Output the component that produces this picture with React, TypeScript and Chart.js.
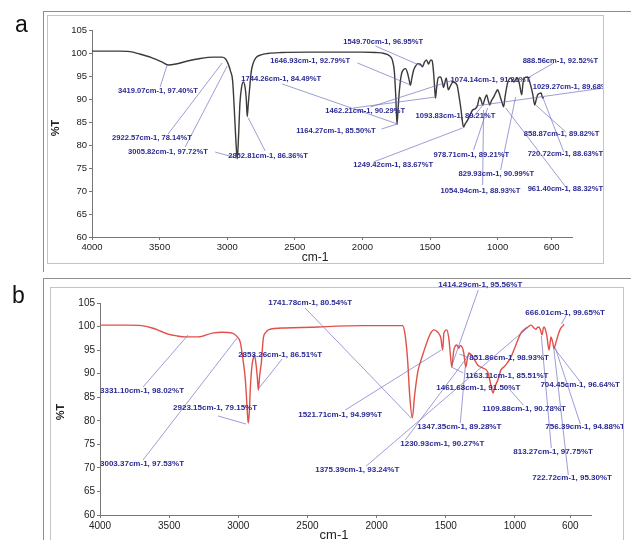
import React, { useEffect, useRef } from "react";
import { Chart, registerables } from "chart.js";

Chart.register(...registerables);

// ---------- shared axis ticks ----------
const xTickValues = [4000, 3500, 3000, 2500, 2000, 1500, 1000, 600];
const yTickValues = [60, 65, 70, 75, 80, 85, 90, 95, 100, 105];

// ---------- panel a : spectrum ----------
const aWavenumber = [
  4000, 3900, 3800, 3720, 3650, 3560, 3480, 3437, 3380, 3300, 3200, 3100, 3040, 3015, 2995, 2975,
  2960, 2948, 2936, 2926, 2916, 2906, 2894, 2881, 2868, 2859, 2852, 2844, 2835, 2822, 2810, 2790,
  2750, 2700, 2600, 2400, 2200, 2000, 1900, 1840, 1800, 1778, 1764, 1754, 1744, 1736, 1726, 1712,
  1696, 1681, 1667, 1655, 1645, 1634, 1622, 1606, 1590, 1572, 1556, 1541, 1526, 1511, 1495, 1484,
  1474, 1466, 1460, 1452, 1440, 1422, 1410, 1400, 1390, 1380, 1365, 1350, 1330, 1300, 1285, 1270,
  1260, 1252, 1240, 1222, 1200, 1185, 1165, 1150, 1133, 1120, 1111, 1095, 1081, 1068, 1059, 1045,
  1030, 1015, 1000, 988, 978, 967, 956, 945, 926, 904, 881, 865, 852, 838, 822, 812,
  800, 778, 756, 740, 726, 715, 704, 690, 678, 667, 659,
];
const aTransmittance = [
  100.4, 100.4, 100.4, 100.3, 99.8, 99.0, 98.0, 97.4, 97.6, 98.2, 98.8, 99.1, 99.1, 98.8, 97.8, 96.0,
  94.0, 88.0, 81.0, 77.0, 82.0, 89.0, 92.5, 93.7, 92.6, 90.0, 86.2, 89.0, 92.0, 96.0, 97.6, 98.9,
  99.6, 99.9, 100.1, 100.2, 100.2, 100.2, 100.1, 99.9, 99.4, 98.4, 96.0, 91.0, 84.5, 88.0, 92.0, 95.3,
  96.4, 96.6, 95.7, 94.2, 93.0, 94.6, 96.2, 97.2, 97.7, 97.6, 97.0, 98.0, 98.5, 97.6, 98.5, 98.3,
  95.8, 92.5, 90.2, 92.2, 94.6, 94.8, 93.8, 92.5, 93.6, 94.6, 92.0, 92.8, 93.7, 93.0, 90.5, 87.5,
  85.0, 83.9, 84.6, 85.4, 86.8, 87.6, 87.9, 88.5, 90.4, 89.5, 88.7, 90.0, 90.9, 89.5, 88.7, 89.7,
  90.4, 91.3, 92.0, 91.2, 90.2, 89.2, 88.3, 90.5, 93.5, 94.6, 93.7, 94.3, 94.6, 93.2, 90.9, 93.5,
  94.6, 94.8, 93.0, 91.0, 88.7, 89.8, 90.9, 91.2, 91.3, 90.2, 90.4,
];

// panel a : peak labels
const aPeakLabels = [
  "3419.07cm-1, 97.40%T", "2922.57cm-1, 78.14%T", "3005.82cm-1, 97.72%T", "2852.81cm-1, 86.36%T",
  "1744.26cm-1, 84.49%T", "1646.93cm-1, 92.79%T", "1549.70cm-1, 96.95%T", "1164.27cm-1, 85.50%T",
  "1462.21cm-1, 90.29%T", "1093.83cm-1, 89.21%T", "1074.14cm-1, 91.21%T", "888.56cm-1, 92.52%T",
  "1029.27cm-1, 89.68%T", "858.87cm-1, 89.82%T", "720.72cm-1, 88.63%T", "978.71cm-1, 89.21%T",
  "829.93cm-1, 90.99%T", "1054.94cm-1, 88.93%T", "961.40cm-1, 88.32%T", "1249.42cm-1, 83.67%T",
];
// where each label sits, in axis units [cm-1, %T]
const aLabelAt = [
  [3807, 91.74], [3852, 81.52], [3733, 78.48], [2993, 77.61],
  [2896, 94.35], [2681, 98.26], [2141, 102.39], [2489, 83.04],
  [2274, 87.39], [1607, 86.3], [1348, 94.13], [815, 98.26],
  [741, 92.61], [807, 82.39], [778, 78.04], [1474, 77.83],
  [1289, 73.7], [1422, 70.0], [778, 70.43], [2067, 75.65],
];
// leader lines, in axis units [cm-1, %T, cm-1, %T]
const aLeaders = [
  [3496, 92.61, 3444, 97.39], [3437, 82.39, 3037, 97.83], [3311, 79.57, 3000, 97.17],
  [3089, 78.48, 2933, 77.17], [2719, 78.7, 2844, 85.87], [2593, 93.26, 1741, 84.57],
  [1859, 83.48, 1741, 84.57], [2037, 97.83, 1644, 93.04], [1904, 101.52, 1563, 97.17],
  [2067, 88.04, 1459, 90.43], [1326, 94.13, 1941, 88.26], [1185, 85.87, 1104, 88.91],
  [1919, 76.3, 1259, 83.7], [1178, 78.91, 1074, 88.04], [1111, 71.3, 1104, 87.61],
  [978, 74.57, 867, 90.43], [941, 88.04, 496, 70.87], [585, 97.83, 778, 94.57],
  [215, 92.39, 1163, 88.48], [496, 82.83, 719, 88.7], [511, 78.48, 667, 90.43],
];

// ---------- panel b : spectrum ----------
const bWavenumber = [
  4000, 3900, 3800, 3700, 3623, 3560, 3507, 3440, 3384, 3290, 3188, 3116, 3043, 3007, 2986, 2964,
  2950, 2942, 2935, 2928, 2920, 2913, 2900, 2891, 2884, 2870, 2862, 2855, 2846, 2833, 2819, 2800,
  2783, 2660, 2420, 2297, 2100, 1900, 1812, 1797, 1785, 1775, 1761, 1742, 1725, 1703, 1680, 1660,
  1635, 1609, 1587, 1558, 1536, 1522, 1514, 1493, 1478, 1468, 1457, 1442, 1420, 1406, 1395, 1380,
  1370, 1362, 1355, 1345, 1333, 1304, 1268, 1232, 1196, 1174, 1159, 1145, 1123, 1101, 1080, 1055,
  1029, 993, 957, 930, 906, 884, 862, 848, 838, 826, 815, 804, 795, 790, 778, 768,
  754, 746, 739, 728, 717, 703, 692, 681, 667, 655, 645,
];
const bTransmittance = [
  100.3, 100.3, 100.3, 100.2, 99.7, 99.0, 98.4, 98.0, 97.8, 97.8, 98.6, 98.8, 98.6, 97.8, 96.7, 92.5,
  89.0, 85.5, 82.0, 79.5, 82.0, 87.0, 92.0, 93.3, 94.0, 91.5, 89.0, 86.5, 89.5, 92.5, 97.6, 98.8,
  99.3, 99.7, 99.9, 100.1, 100.2, 100.2, 100.2, 98.8, 96.0, 92.5, 85.5, 80.6, 85.5, 90.3, 92.8, 94.6,
  96.8, 98.6, 99.3, 98.8, 97.6, 95.0, 98.6, 99.3, 97.5, 94.5, 91.4, 95.0, 96.1, 95.4, 96.0, 95.5,
  94.4, 92.5, 91.4, 93.0, 94.4, 93.5, 91.8, 91.2, 90.3, 87.6, 85.9, 87.2, 88.7, 90.8, 91.4, 92.3,
  93.5, 96.1, 98.6, 99.4, 99.9, 100.3, 99.7, 99.4, 99.8, 99.9, 99.2, 98.2, 99.6, 99.9, 99.2, 97.8,
  95.0, 96.5, 97.8, 96.8, 95.4, 96.7, 97.8, 98.8, 99.7, 100.1, 100.5,
];

// panel b : peak labels
const bPeakLabels = [
  "1741.78cm-1, 80.54%T", "1414.29cm-1, 95.56%T", "666.01cm-1, 99.65%T", "3331.10cm-1, 98.02%T",
  "2853.26cm-1, 86.51%T", "2923.15cm-1, 79.15%T", "1521.71cm-1, 94.99%T", "851.86cm-1, 98.93%T",
  "1163.11cm-1, 85.51%T", "1461.68cm-1, 91.50%T", "704.45cm-1, 96.64%T", "1109.88cm-1, 90.78%T",
  "1347.35cm-1, 89.28%T", "756.39cm-1, 94.88%T", "1230.93cm-1, 90.27%T", "813.27cm-1, 97.75%T",
  "722.72cm-1, 95.30%T", "1375.39cm-1, 93.24%T", "3003.37cm-1, 97.53%T",
];
const bLabelAt = [
  [2784, 105.0], [1554, 108.82], [925, 102.88], [4000, 86.32],
  [3001, 93.96], [3472, 82.71], [2567, 81.22], [1330, 93.32],
  [1359, 89.5], [1569, 86.95], [816, 87.59], [1236, 82.49],
  [1706, 78.67], [780, 78.67], [1829, 75.06], [1012, 73.37],
  [874, 67.85], [2444, 69.54], [4000, 70.82],
];
const bLeaders = [
  [2517, 103.94, 1750, 80.58], [1265, 107.76, 1460, 91.41], [628, 102.45, 664, 100.54],
  [3689, 87.17, 3363, 98.21], [2683, 93.11, 2850, 86.95], [3146, 81.01, 2944, 79.31],
  [2227, 82.28, 1533, 95.02], [1344, 93.53, 1402, 94.17], [1373, 90.14, 1460, 91.41],
  [1395, 79.52, 1359, 91.41], [527, 88.23, 722, 95.66], [939, 83.34, 1048, 86.95],
  [527, 79.31, 708, 95.45], [1793, 75.91, 1323, 94.38], [737, 74.22, 809, 97.99],
  [614, 68.48, 722, 96.08], [2075, 70.39, 903, 99.9], [3689, 71.67, 3009, 97.57],
];

// ---------- styling ----------
const FONT = '"Liberation Sans", Arial, Helvetica, sans-serif';
const LABEL_COLOR = "#2a2a95";
const LEADER_COLOR = "rgba(105,105,190,0.65)";

type PanelSpec = {
  letter: string;
  width: number;
  height: number;
  area: { left: number; right: number; top: number; bottom: number };
  tickSize: number;
  labelSize: number;
  lineColor: string;
  wn: number[];
  tr: number[];
  labels: string[];
  labelAt: number[][];
  leaders: number[][];
  clipRight: number;
  letterPos: [number, number];
  yTitlePos: [number, number];
  xTitlePos: [number, number];
  xTitleSize: number;
  frameOuter: [number, number];
  frameInner: [number, number, number, number];
};

function decorPlugin(spec: PanelSpec) {
  return {
    id: "decor" + spec.letter,
    beforeDraw(chart: any) {
      const ctx = chart.ctx;
      ctx.save();
      ctx.fillStyle = "#ffffff";
      ctx.fillRect(0, 0, chart.width, chart.height);
      ctx.lineWidth = 1;
      ctx.strokeStyle = "#8e8e8e";
      const [ox, oy] = spec.frameOuter;
      ctx.strokeRect(ox + 0.5, oy + 0.5, chart.width + 40, chart.height + 40);
      ctx.strokeStyle = "#c4c4c4";
      const [ix, iy, ir, ib] = spec.frameInner;
      ctx.strokeRect(ix + 0.5, iy + 0.5, ir - ix, ib - iy);
      ctx.restore();
    },
    afterDraw(chart: any) {
      const ctx = chart.ctx;
      const xs = chart.scales.x;
      const ys = chart.scales.y;
      ctx.save();
      ctx.beginPath();
      ctx.rect(0, 0, spec.clipRight, chart.height);
      ctx.clip();
      ctx.strokeStyle = LEADER_COLOR;
      ctx.lineWidth = 1;
      for (const [w1, t1, w2, t2] of spec.leaders) {
        ctx.beginPath();
        ctx.moveTo(xs.getPixelForValue(w1), ys.getPixelForValue(t1));
        ctx.lineTo(xs.getPixelForValue(w2), ys.getPixelForValue(t2));
        ctx.stroke();
      }
      ctx.fillStyle = LABEL_COLOR;
      ctx.font = `bold ${spec.labelSize}px ${FONT}`;
      ctx.textAlign = "left";
      ctx.textBaseline = "middle";
      spec.labels.forEach((s, i) => {
        const [w, t] = spec.labelAt[i];
        ctx.fillText(s, xs.getPixelForValue(w), ys.getPixelForValue(t));
      });
      ctx.restore();

      ctx.save();
      ctx.fillStyle = "#111";
      ctx.font = `23px ${FONT}`;
      ctx.textAlign = "left";
      ctx.textBaseline = "alphabetic";
      ctx.fillText(spec.letter, spec.letterPos[0], spec.letterPos[1]);
      ctx.fillStyle = "#222";
      ctx.font = `${spec.xTitleSize}px ${FONT}`;
      ctx.textAlign = "center";
      ctx.textBaseline = "middle";
      ctx.fillText("cm-1", spec.xTitlePos[0], spec.xTitlePos[1]);
      ctx.translate(spec.yTitlePos[0], spec.yTitlePos[1]);
      ctx.rotate(-Math.PI / 2);
      ctx.font = `bold 11px ${FONT}`;
      ctx.fillText("%T", 0, 0);
      ctx.restore();
    },
  };
}

function buildChart(canvas: HTMLCanvasElement, spec: PanelSpec) {
  const a = spec.area;
  const points = spec.wn.map((w, i) => ({ x: w, y: spec.tr[i] }));
  const tickFont = { family: FONT, size: spec.tickSize };
  return new Chart(canvas, {
    type: "line",
    data: {
      datasets: [
        {
          data: points,
          borderColor: spec.lineColor,
          borderWidth: 1.4,
          pointRadius: 0,
          fill: false,
          cubicInterpolationMode: "monotone",
        },
      ],
    },
    options: {
      responsive: false,
      animation: false,
      events: [],
      layout: { padding: { left: 0, top: a.top, right: spec.width - a.right, bottom: 0 } },
      plugins: { legend: { display: false }, tooltip: { enabled: false } },
      scales: {
        x: {
          type: "linear",
          reverse: true,
          min: 450,
          max: 4000,
          afterBuildTicks: (s: any) => {
            s.ticks = xTickValues.map((v) => ({ value: v }));
          },
          afterFit: (s: any) => {
            s.height = spec.height - a.bottom;
          },
          ticks: {
            callback: (v: any) => String(v),
            font: tickFont,
            color: "#222",
            padding: 2,
            maxRotation: 0,
            autoSkip: false,
          },
          grid: { display: true, drawOnChartArea: false, drawTicks: true, tickLength: 3, color: "#777" },
          border: { display: true, color: "#777" },
        },
        y: {
          type: "linear",
          min: 60,
          max: 105,
          afterBuildTicks: (s: any) => {
            s.ticks = yTickValues.map((v) => ({ value: v }));
          },
          afterFit: (s: any) => {
            s.width = a.left;
          },
          ticks: { font: tickFont, color: "#222", padding: 2 },
          grid: { display: true, drawOnChartArea: false, drawTicks: true, tickLength: 3, color: "#777" },
          border: { display: true, color: "#777" },
        },
      },
    },
    plugins: [decorPlugin(spec)],
  } as any);
}

const panelA: PanelSpec = {
  letter: "a",
  width: 631,
  height: 272,
  area: { left: 92, right: 572, top: 30, bottom: 237 },
  tickSize: 9.5,
  labelSize: 7.6,
  lineColor: "#3a3a3a",
  wn: aWavenumber,
  tr: aTransmittance,
  labels: aPeakLabels,
  labelAt: aLabelAt,
  leaders: aLeaders,
  clipRight: 603,
  letterPos: [15, 32],
  yTitlePos: [56, 128],
  xTitlePos: [315, 258],
  xTitleSize: 12,
  frameOuter: [43, 11],
  frameInner: [47, 15, 603, 263],
};

const panelB: PanelSpec = {
  letter: "b",
  width: 631,
  height: 268,
  area: { left: 100, right: 591, top: 31, bottom: 243 },
  tickSize: 10,
  labelSize: 8.0,
  lineColor: "#e2504a",
  wn: bWavenumber,
  tr: bTransmittance,
  labels: bPeakLabels,
  labelAt: bLabelAt,
  leaders: bLeaders,
  clipRight: 623,
  letterPos: [12, 31],
  yTitlePos: [61, 140],
  xTitlePos: [334, 263],
  xTitleSize: 13,
  frameOuter: [43, 6],
  frameInner: [50, 15, 623, 300],
};

export default function App() {
  const refA = useRef<HTMLCanvasElement | null>(null);
  const refB = useRef<HTMLCanvasElement | null>(null);

  useEffect(() => {
    const ca = refA.current ? buildChart(refA.current, panelA) : null;
    const cb = refB.current ? buildChart(refB.current, panelB) : null;
    return () => {
      ca && ca.destroy();
      cb && cb.destroy();
    };
  }, []);

  return (
    <div style={{ position: "absolute", left: 0, top: 0, width: 631, height: 540, background: "#fff", overflow: "hidden" }}>
      <canvas ref={refA} width={panelA.width} height={panelA.height} style={{ position: "absolute", left: 0, top: 0, width: panelA.width, height: panelA.height }} />
      <canvas ref={refB} width={panelB.width} height={panelB.height} style={{ position: "absolute", left: 0, top: 272, width: panelB.width, height: panelB.height }} />
    </div>
  );
}
